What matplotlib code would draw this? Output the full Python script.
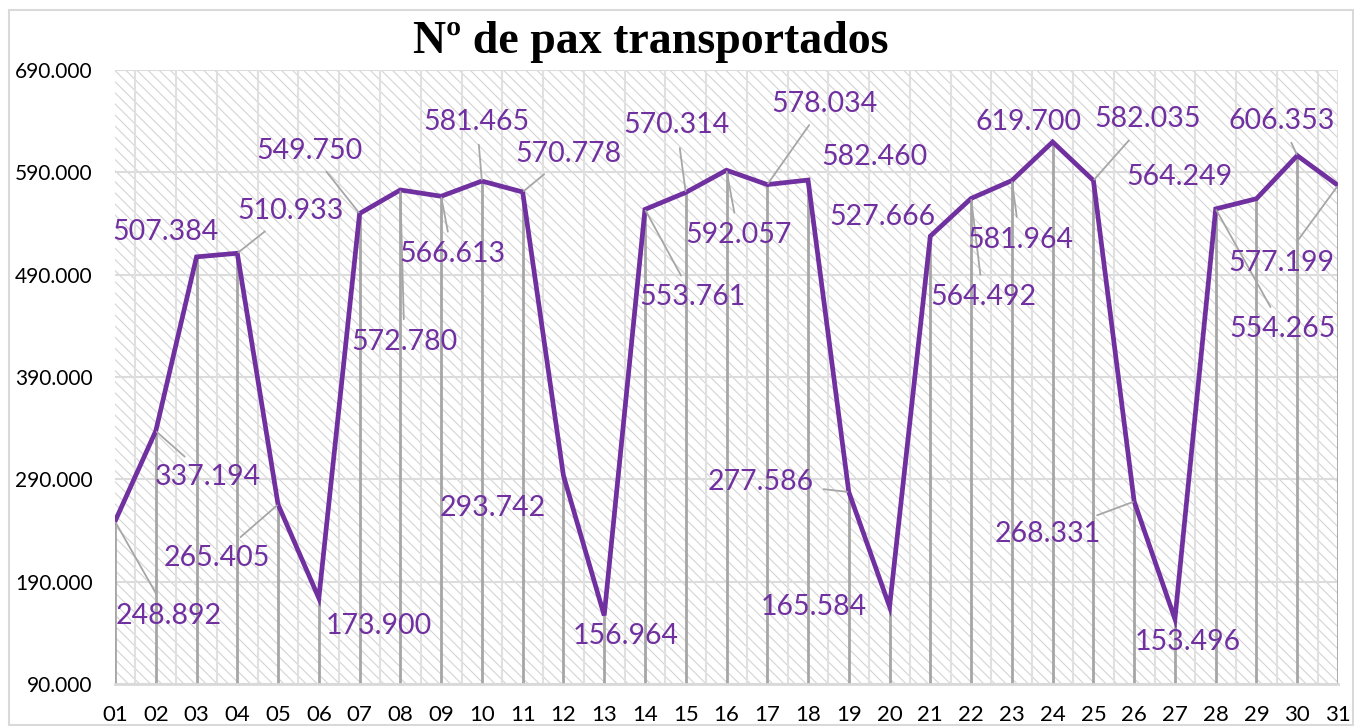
import matplotlib
matplotlib.use("Agg")
import matplotlib.pyplot as plt
from matplotlib.patches import Rectangle
from matplotlib.ticker import FuncFormatter

# passengers per day
days = ["01", "02", "03", "04", "05", "06", "07", "08", "09", "10",
        "11", "12", "13", "14", "15", "16", "17", "18", "19", "20",
        "21", "22", "23", "24", "25", "26", "27", "28", "29", "30", "31"]
pax = [248892, 337194, 507384, 510933, 265405, 173900, 549750, 572780, 566613, 581465,
       570778, 293742, 156964, 553761, 570314, 592057, 578034, 582460, 277586, 165584,
       527666, 564492, 581964, 619700, 582035, 268331, 153496, 554265, 564249, 606353, 577199]
y_ticks = [90000, 190000, 290000, 390000, 490000, 590000, 690000]

# label offsets in pixels (dx, dy) and whether a leader line is drawn
label_off = [(54, -95), (52, -46), (-31, 25), (53, 42), (-61, -53), (60, -28), (-50, 63),
             (4, -152), (11, -58), (-5, 59), (46, 38), (-71, -32), (22, -21), (48, -88),
             (-9, 67), (12, -65), (57, 81), (66, 23), (-88, 10), (-76, 0), (-48, 19),
             (12, -99), (8, -59), (-24, 20), (54, 61), (-86, -32), (13, -23), (67, -120),
             (-77, 22), (-16, 35), (-57, -78)]
leader = [1, 1, 0, 1, 1, 0, 1, 1, 1, 1, 1, 0, 0, 1, 1, 1, 1, 0, 1, 0, 0,
          1, 1, 0, 1, 1, 0, 1, 0, 1, 1]

purple = "#7030a0"
plt.rcParams["hatch.linewidth"] = 0.8
plt.rcParams["hatch.color"] = "#d4d4d4"

fig = plt.figure(figsize=(13.54, 7.26), dpi=100)
ax = fig.add_axes([115 / 1354, 1 - 684 / 726, 1223 / 1354, 614 / 726])

x = list(range(len(days)))
ax.set_xlim(0, len(days) - 1)
ax.set_ylim(90000, 690000)

# hatched background
ax.add_patch(Rectangle((0, 0), 1, 1, transform=ax.transAxes, facecolor="white",
                       edgecolor="#d4d4d4", hatch="\\\\\\", linewidth=0, zorder=0))

# grid lines
for yt in y_ticks:
    ax.axhline(yt, color="#dcdcdc", lw=1.5, zorder=1)
for xi in x[:-1]:
    ax.axvline(xi + 0.5, color="#e0e0e0", lw=1.5, zorder=1)
ax.axvline(len(days) - 1, color="#e0e0e0", lw=1.5, zorder=1)

# drop lines
ax.vlines(x, 90000, pax, color="#a6a6a6", lw=2, zorder=2)

ax.plot(x, pax, color=purple, lw=3.4, zorder=3, solid_joinstyle="miter")

for xi, v, off, ld in zip(x, pax, label_off, leader):
    txt = f"{v:,.0f}".replace(",", ".")
    props = None
    if ld:
        props = dict(arrowstyle="-", color="#a6a6a6", lw=1.3, shrinkA=5, shrinkB=1)
    ax.annotate(txt, xy=(xi, v), xytext=off, textcoords="offset pixels",
                ha="center", va="center", color=purple, fontsize=20.5,
                family="Lato", arrowprops=props, zorder=4)

ax.set_xticks(x)
ax.set_xticklabels(days, fontsize=16, family="Lato")
ax.set_yticks(y_ticks)
ax.yaxis.set_major_formatter(FuncFormatter(lambda v, p: f"{v:,.0f}".replace(",", ".")))
for lab in ax.get_yticklabels():
    lab.set_family("Lato")
    lab.set_fontsize(15)
ax.tick_params(axis="both", length=0)
ax.tick_params(axis="x", pad=15)
ax.tick_params(axis="y", pad=16)

for s in ["top", "right", "left"]:
    ax.spines[s].set_visible(False)
ax.spines["bottom"].set_color("#d9d9d9")
ax.spines["bottom"].set_linewidth(2)

fig.text(651 / 1354, 1 - 42 / 726, "Nº de pax transportados", ha="center", va="center",
         fontsize=33, fontweight="bold", family="Liberation Serif")

# outer chart frame
fig.patches.append(Rectangle((9 / 1354, 0.002), 1 - 10 / 1354, 1 - 10 / 726 - 0.002,
                             transform=fig.transFigure, fill=False, edgecolor="#d9d9d9", lw=1.5))

fig.savefig("out.png", dpi=100)
